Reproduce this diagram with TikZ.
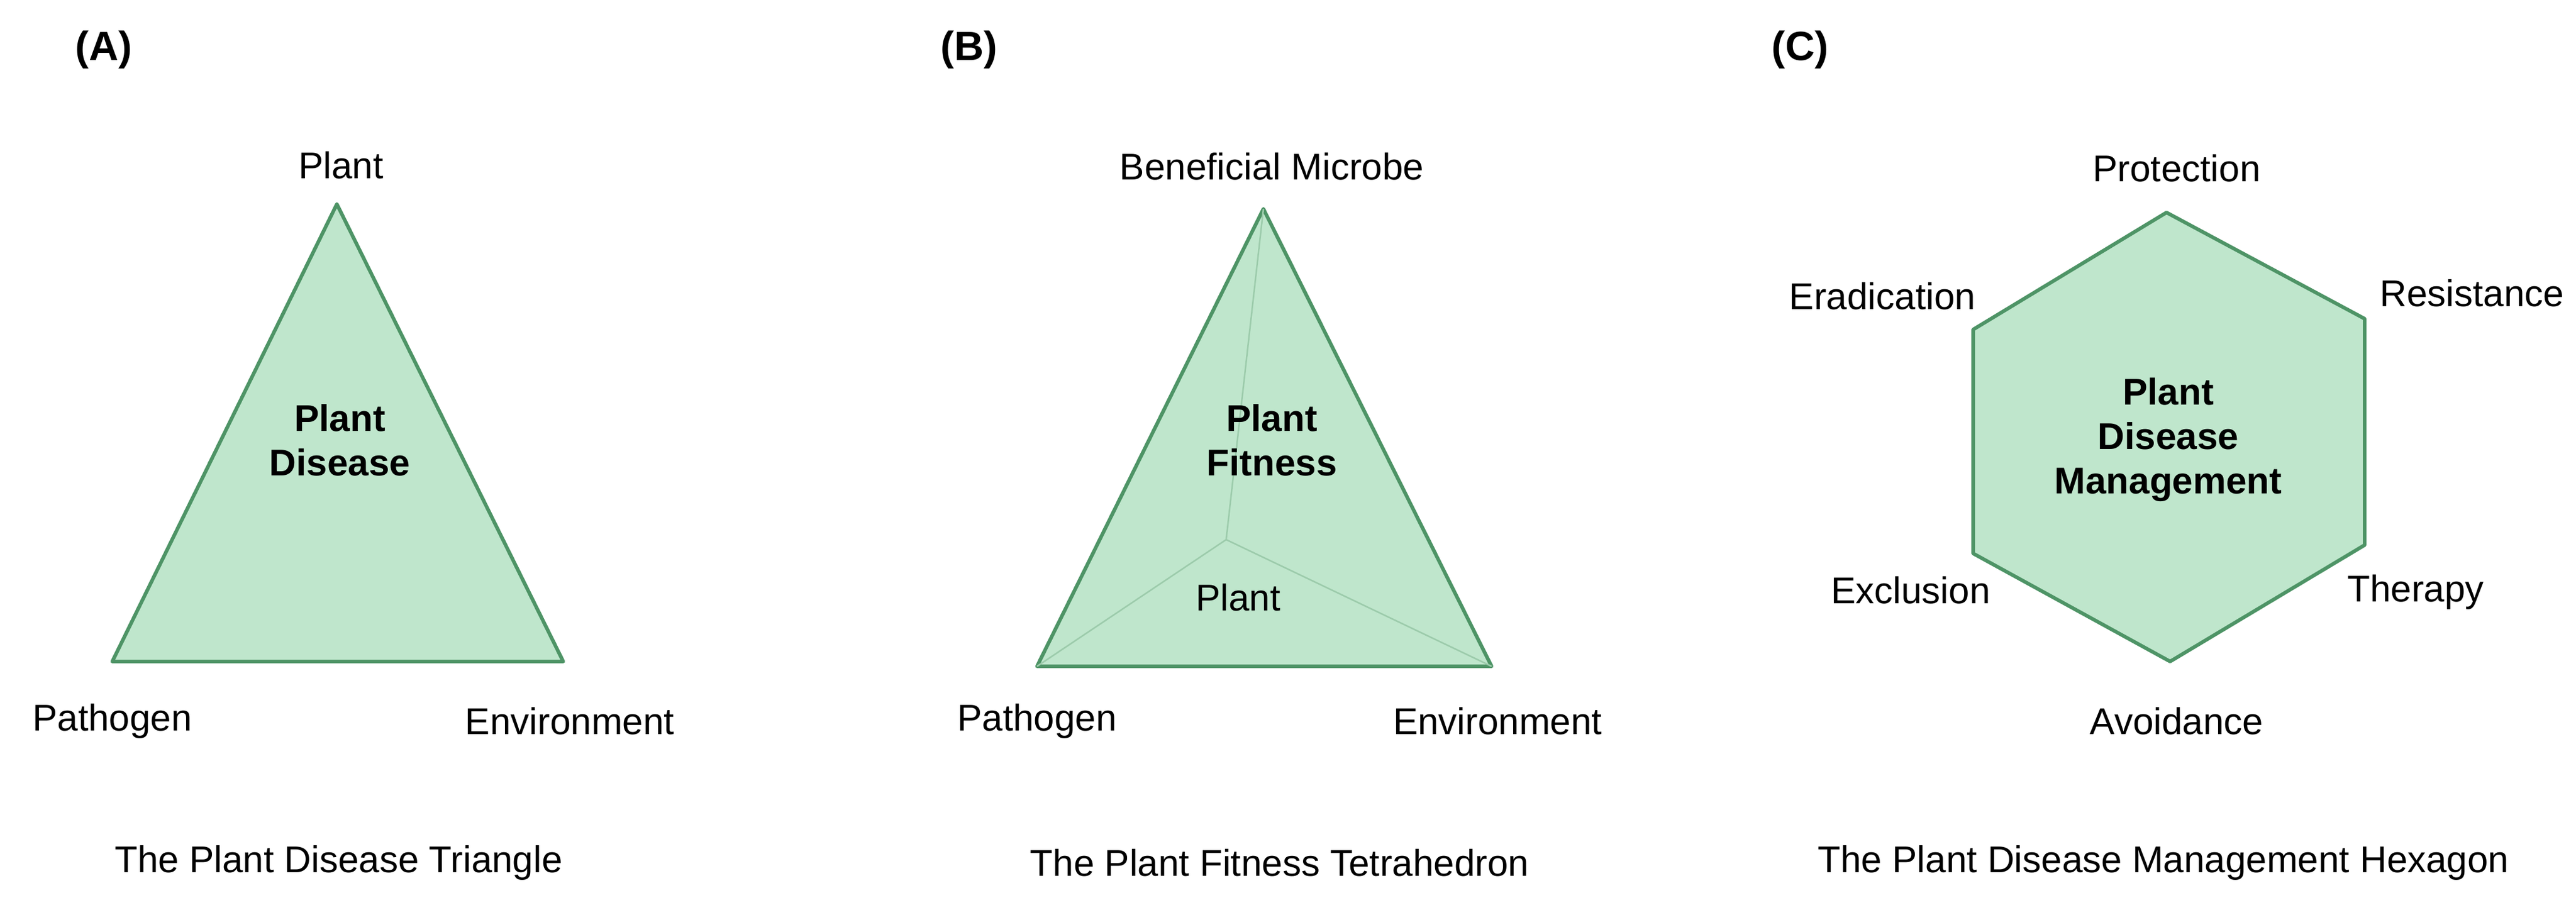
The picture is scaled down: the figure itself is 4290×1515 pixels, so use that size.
\documentclass[tikz,border=0pt]{standalone}
\usepackage{fontspec}
\setmainfont{Liberation Sans}
\begin{document}
\begin{tikzpicture}[x=1pt,y=-1pt,
  lbl/.style={font=\fontsize{62}{72}\selectfont, inner sep=0pt},
  ctr/.style={font=\fontsize{62}{74}\selectfont\bfseries, align=center, inner sep=0pt},
  ttl/.style={font=\fontsize{68}{80}\selectfont\bfseries, inner sep=0pt},
  figshape/.style={draw=edgegreen, fill=fillgreen, line width=6pt, line join=round},
  innerline/.style={draw=innergreen, line width=2.5pt}]
\definecolor{fillgreen}{HTML}{BFE6CC}
\definecolor{edgegreen}{HTML}{4E9466}
\definecolor{innergreen}{HTML}{9CCBAB}
\useasboundingbox (0,0) rectangle (4290,1515);
% (A)
\coordinate (a1) at (561,340); \coordinate (a2) at (187,1102); \coordinate (a3) at (938,1102);
\draw[figshape] (a1) -- (a2) -- (a3) -- cycle;
\node[ttl] (tA) at (173,83) {(A)};
\node[lbl] (lA1) at (568,275) {Plant};
\node[lbl] (lA2) at (187,1201) {Pathogen};
\node[lbl] (lA3) at (949,1201) {Environment};
\node[ctr] (cA) at (566,733) {Plant\\Disease};
\node[lbl] (capA) at (564,1437) {The Plant Disease Triangle};
% (B)
\coordinate (b1) at (2104,348); \coordinate (b2) at (1727,1110); \coordinate (b3) at (2484,1110); \coordinate (b4) at (2042,899);
\draw[figshape] (b1) -- (b2) -- (b3) -- cycle;
\draw[innerline] (b1) -- (b4) -- (b2) (b4) -- (b3);
\node[ttl] (tB) at (1614,83) {(B)};
\node[lbl] (lB1) at (2118,277) {Beneficial Microbe};
\node[lbl] (lB2) at (1727,1201) {Pathogen};
\node[lbl] (lB3) at (2494,1201) {Environment};
\node[lbl] (lB4) at (2062,995) {Plant};
\node[ctr] (cB) at (2118,733) {Plant\\Fitness};
\node[lbl] (capB) at (2131,1437) {The Plant Fitness Tetrahedron};
% (C)
\draw[figshape] (3608,354) -- (3938,531) -- (3938,908) -- (3614,1102) -- (3286,922) -- (3286,549) -- cycle;
\node[ttl] (tC) at (2998,83) {(C)};
\node[lbl] (lC1) at (3625,280) {Protection};
\node[lbl] (lC2) at (4117,488) {Resistance};
\node[lbl] (lC3) at (3135,493) {Eradication};
\node[lbl] (lC4) at (3182,983) {Exclusion};
\node[lbl] (lC5) at (4023,986) {Therapy};
\node[lbl] (lC6) at (3625,1201) {Avoidance};
\node[ctr] (cC) at (3611,733) {Plant\\Disease\\Management};
\node[lbl] (capC) at (3603,1437) {The Plant Disease Management Hexagon};
\end{tikzpicture}
\end{document}
